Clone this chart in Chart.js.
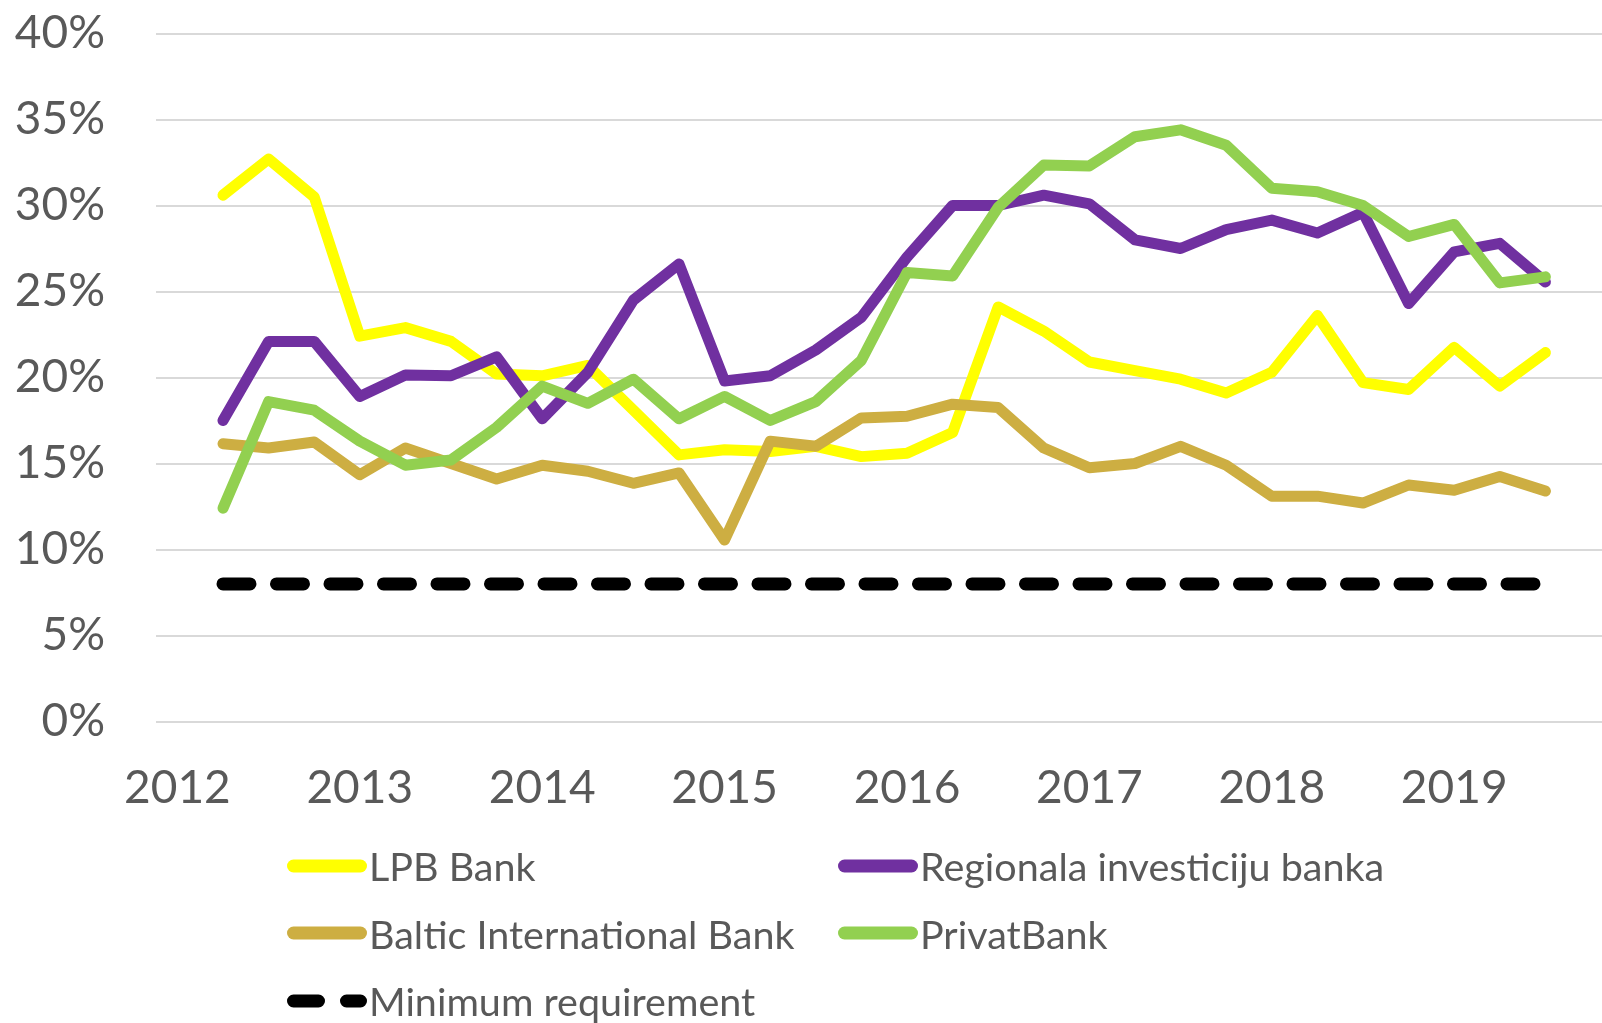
<!DOCTYPE html>
<html>
<head>
<meta charset="utf-8">
<script src="https://cdn.jsdelivr.net/npm/chart.js@4.4.1/dist/chart.umd.min.js"></script>
<style>
  body { margin: 0; background: #fff; }
  #wrap { position: relative; width: 1602px; height: 1023px; overflow: hidden; }
  #legend {
    position: absolute; left: 287px; top: 832px;
    display: grid; grid-template-columns: 551px auto; grid-auto-rows: 67.5px;
    align-items: center;
    font-family: Lato, sans-serif; font-size: 39.5px; color: #595959;
  }
  .item { display: flex; align-items: center; white-space: nowrap; }
  .item svg { margin-right: 2px; flex: none; }
</style>
</head>
<body>
<div id="wrap">
  <canvas id="chart" width="1602" height="1023"></canvas>
  <div id="legend"></div>
</div>
<script>
// quarter ends, Mar 2012 .. Jun 2019
const quarters = [
  '2012-03','2012-06','2012-09','2012-12',
  '2013-03','2013-06','2013-09','2013-12',
  '2014-03','2014-06','2014-09','2014-12',
  '2015-03','2015-06','2015-09','2015-12',
  '2016-03','2016-06','2016-09','2016-12',
  '2017-03','2017-06','2017-09','2017-12',
  '2018-03','2018-06','2018-09','2018-12',
  '2019-03','2019-06'
];
const lpbBank = [30.6, 32.7, 30.5, 22.4, 22.9, 22.1, 20.2, 20.1, 20.7, 18.1,
                 15.5, 15.8, 15.7, 16.0, 15.4, 15.6, 16.8, 24.1, 22.7, 20.9,
                 20.4, 19.9, 19.1, 20.3, 23.6, 19.7, 19.3, 21.75, 19.5, 21.45];
const regionala = [17.5, 22.1, 22.1, 18.9, 20.15, 20.1, 21.2, 17.6, 20.3, 24.5,
                   26.6, 19.8, 20.1, 21.6, 23.5, 27.0, 30.0, 30.0, 30.6, 30.1,
                   28.0, 27.5, 28.6, 29.15, 28.4, 29.6, 24.3, 27.3, 27.8, 25.55];
const balticIntl = [16.15, 15.9, 16.25, 14.35, 15.9, 15.0, 14.1, 14.9, 14.55, 13.85,
                    14.45, 10.55, 16.3, 16.0, 17.65, 17.75, 18.45, 18.25, 15.9, 14.75,
                    15.0, 16.0, 14.9, 13.1, 13.1, 12.7, 13.75, 13.45, 14.25, 13.4];
const privatBank = [12.4, 18.6, 18.1, 16.3, 14.9, 15.2, 17.1, 19.5, 18.5, 19.9,
                    17.6, 18.9, 17.5, 18.6, 21.0, 26.1, 25.9, 29.9, 32.35, 32.3,
                    34.0, 34.4, 33.5, 31.0, 30.8, 30.0, 28.2, 28.9, 25.5, 25.85];
const minRequirement = [8, 8, 8, 8, 8, 8, 8, 8, 8, 8,
                        8, 8, 8, 8, 8, 8, 8, 8, 8, 8,
                        8, 8, 8, 8, 8, 8, 8, 8, 8, 8];
const yearTicks = [2012, 2013, 2014, 2015, 2016, 2017, 2018, 2019];
const percentTicks = [0, 5, 10, 15, 20, 25, 30, 35, 40];

const textColor = '#595959';
const toYear = q => { const [y, m] = q.split('-').map(Number); return y + m / 12; };
const points = vals => vals.map((v, i) => ({ x: toYear(quarters[i]), y: v }));

function series(label, vals, color, order, dash) {
  return {
    label: label,
    data: points(vals),
    borderColor: color,
    backgroundColor: color,
    borderWidth: dash ? 13 : 11,
    borderDash: dash || [],
    borderCapStyle: 'round',
    borderJoinStyle: 'round',
    pointRadius: 0,
    tension: 0,
    order: order
  };
}

const datasets = [
  series('LPB Bank', lpbBank, '#FFFF00', 4),
  series('Regionala investiciju banka', regionala, '#7030A0', 3),
  series('Baltic International Bank', balticIntl, '#CDAE42', 2),
  series('PrivatBank', privatBank, '#92D050', 1),
  series('Minimum requirement', minRequirement, '#000000', 0, [27, 26.5])
];

const chart = new Chart(document.getElementById('chart'), {
  type: 'line',
  data: { datasets: datasets },
  options: {
    responsive: false,
    animation: false,
    devicePixelRatio: 1,
    layout: { padding: { top: 33.5, right: 0, bottom: 191.5, left: 0 } },
    plugins: { legend: { display: false }, tooltip: { enabled: false } },
    scales: {
      x: {
        type: 'linear',
        min: 2011.8827,
        max: 2019.8103,
        afterBuildTicks: s => { s.ticks = yearTicks.map(v => ({ value: v })); },
        afterFit: s => { s.height = 110; s.paddingLeft = 0; s.paddingRight = 0; },
        grid: { display: false, drawTicks: false },
        border: { display: false },
        ticks: {
          padding: 39,
          color: textColor,
          font: { family: 'Lato', size: 46 },
          maxRotation: 0,
          autoSkip: false,
          callback: v => String(v)
        }
      },
      y: {
        min: 0,
        max: 40,
        afterBuildTicks: s => { s.ticks = percentTicks.map(v => ({ value: v })); },
        afterFit: s => { s.width = 156; s.paddingTop = 0; s.paddingBottom = 0; },
        grid: { color: '#D9D9D9', lineWidth: 2, drawTicks: false },
        border: { display: false },
        ticks: {
          padding: 51,
          color: textColor,
          font: { family: 'Lato', size: 46 },
          callback: v => v + '%'
        }
      }
    }
  }
});

// legend laid out in two columns like the original
const legend = document.getElementById('legend');
chart.data.datasets.forEach(ds => {
  const item = document.createElement('div');
  item.className = 'item';
  const dash = ds.borderDash.length ? 'stroke-dasharray="25 28"' : '';
  item.innerHTML =
    '<svg width="80" height="16"><line x1="6.5" y1="8" x2="73.5" y2="8" stroke="' + ds.borderColor +
    '" stroke-width="13" stroke-linecap="round" ' + dash + '/></svg><span>' + ds.label + '</span>';
  legend.appendChild(item);
});
</script>
</body>
</html>
